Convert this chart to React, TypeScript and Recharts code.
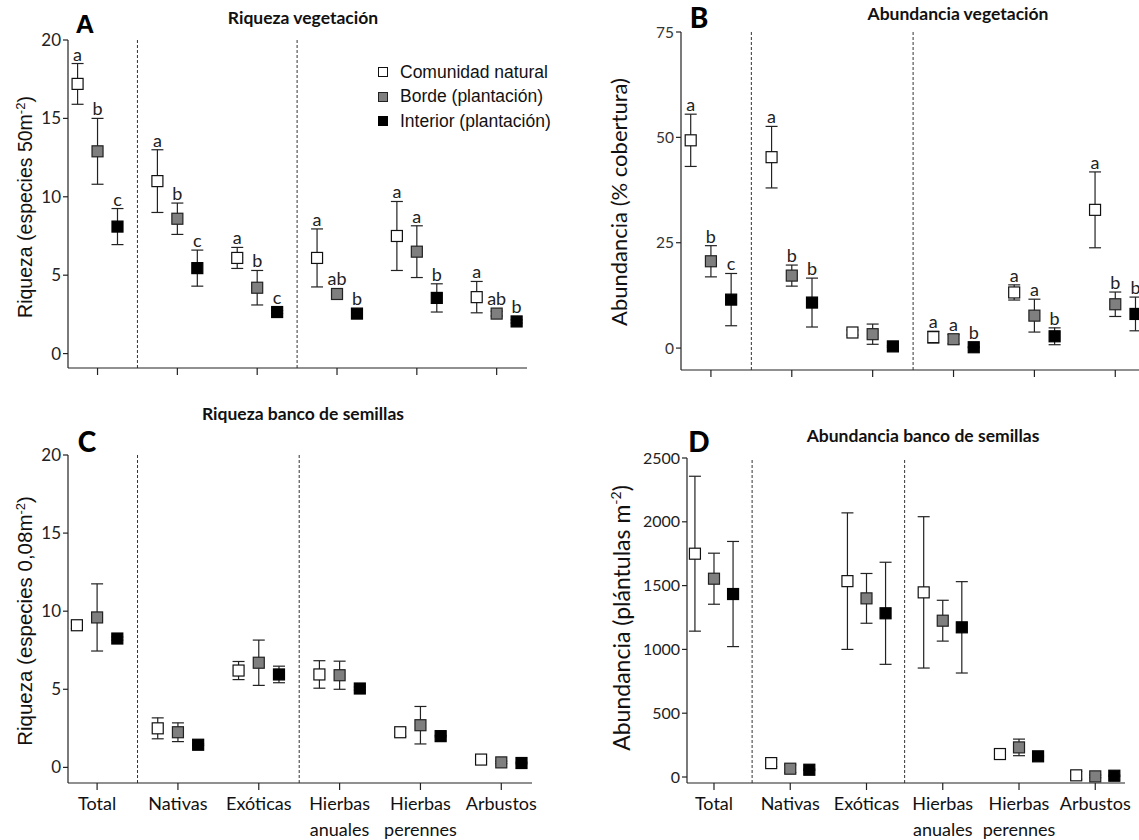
import React from "react";
import { ComposedChart, Scatter, ErrorBar, XAxis, YAxis, ReferenceLine } from "recharts";

const categories = ["Total", "Nativas", "Exóticas", "Hierbas anuales", "Hierbas perennes", "Arbustos"];
const seriesNames = ["Comunidad natural", "Borde (plantación)", "Interior (plantación)"];
const categoryTicks = [0, 1, 2, 3, 4, 5];
const groupDividers = [0.5, 2.5];

// A: riqueza vegetación
const vegRichNatural = [17.2, 11.0, 6.1, 6.1, 7.5, 3.6];
const vegRichNaturalSe = [1.3, 2.0, 0.67, 1.85, 2.2, 1.0];
const vegRichBorde = [12.9, 8.6, 4.2, 3.8, 6.5, 2.55];
const vegRichBordeSe = [2.1, 1.0, 1.1, 0.25, 1.65, 0.15];
const vegRichInterior = [8.1, 5.45, 2.65, 2.55, 3.55, 2.05];
const vegRichInteriorSe = [1.15, 1.15, 0.1, 0.1, 0.9, 0.1];
const vegRichLettersNatural = ["a", "a", "a", "a", "a", "a"];
const vegRichLettersBorde = ["b", "b", "b", "ab", "a", "ab"];
const vegRichLettersInterior = ["c", "c", "c", "b", "b", "b"];

// B: abundancia vegetación
const vegAbNatural = [49.3, 45.3, 3.7, 2.6, 13.2, 32.8];
const vegAbNaturalSe = [6.2, 7.3, 0.6, 1.4, 1.8, 9.0];
const vegAbBorde = [20.6, 17.2, 3.3, 2.1, 7.7, 10.4];
const vegAbBordeSe = [3.7, 2.5, 2.4, 1.1, 3.9, 2.9];
const vegAbInterior = [11.5, 10.8, 0.4, 0.2, 2.8, 8.1];
const vegAbInteriorSe = [6.2, 5.8, 0.2, 0.1, 2.0, 4.0];
const vegAbLettersNatural = ["a", "a", "", "a", "a", "a"];
const vegAbLettersBorde = ["b", "b", "", "a", "a", "b"];
const vegAbLettersInterior = ["c", "b", "", "b", "b", "b"];

// C: riqueza banco de semillas
const seedRichNatural = [9.1, 2.5, 6.2, 5.95, 2.25, 0.5];
const seedRichNaturalSe = [0.2, 0.67, 0.58, 0.88, 0.26, 0.1];
const seedRichBorde = [9.6, 2.25, 6.7, 5.9, 2.7, 0.32];
const seedRichBordeSe = [2.15, 0.6, 1.45, 0.9, 1.2, 0.08];
const seedRichInterior = [8.25, 1.45, 5.95, 5.05, 2.0, 0.28];
const seedRichInteriorSe = [0.1, 0.05, 0.53, 0.1, 0.05, 0.05];

// D: abundancia banco de semillas
const seedAbNatural = [1750, 109, 1535, 1447, 180, 13];
const seedAbNaturalSe = [607, 27, 535, 593, 36, 30];
const seedAbBorde = [1554, 65, 1400, 1225, 232, 5];
const seedAbBordeSe = [200, 30, 195, 160, 65, 10];
const seedAbInterior = [1434, 57, 1283, 1173, 162, 10];
const seedAbInteriorSe = [412, 5, 400, 358, 5, 5];

const offsets = [-0.25, 0, 0.25];
const fills = ["#ffffff", "#7f7f7f", "#000000"];
const strokes = ["#111111", "#222222", "#000000"];
const X_H = 40;
const Y_W = 50;
const MARK = 11;

const rows = (means: number[], se: number[], si: number, letters?: string[]) =>
  means.map((m, i) => ({ x: i + offsets[si], y: m, err: se[i], letter: letters ? letters[i] : "" }));

const CatTick = ({ x, y, payload }: any) => {
  const words = categories[payload.value].split(" ");
  return (
    <text x={x} y={y} textAnchor="middle" fontFamily="Lato" fontSize={18} fill="#111">
      {words.map((w, i) => (
        <tspan key={i} x={x} dy={i === 0 ? 18 : 26}>{w}</tspan>
      ))}
    </text>
  );
};

const makeShape = (si: number, k: number) => (p: any) => {
  const { cx, cy, payload } = p;
  const errPx = Math.max(MARK / 2, payload.err * k);
  return (
    <g>
      <rect x={cx - MARK / 2} y={cy - MARK / 2} width={MARK} height={MARK} fill={fills[si]} stroke={strokes[si]} strokeWidth={1.2} />
      {payload.letter ? (
        <text x={cx} y={cy - errPx - 3} textAnchor="middle" fontFamily="Lato" fontSize={18} fill="#222">
          {payload.letter}
        </text>
      ) : null}
    </g>
  );
};

const LegendBox = ({ left, top }: { left: number; top: number }) => (
  <div style={{ position: "absolute", left, top, fontFamily: "Liberation Sans, Arial", fontSize: 17.5, color: "#111" }}>
    {seriesNames.map((n, i) => (
      <div key={n} style={{ display: "flex", alignItems: "center", height: 24.5 }}>
        <span style={{ width: 10, height: 10, background: fills[i], border: `1px solid ${strokes[i]}`, boxSizing: "border-box", display: "inline-block", marginRight: 12 }} />
        <span>{n}</span>
      </div>
    ))}
  </div>
);

function Panel(props: any) {
  const { left, top, width, height, margin, xDomain, yDomain, yTicks, series, xLabels, tickFont, tickColor } = props;
  const plotH = height - margin.top - margin.bottom - X_H;
  const k = plotH / (yDomain[1] - yDomain[0]);
  return (
    <div style={{ position: "absolute", left, top }}>
      <ComposedChart width={width} height={height} margin={margin}>
        <XAxis
          type="number"
          dataKey="x"
          domain={xDomain}
          ticks={categoryTicks}
          interval={0}
          allowDataOverflow
          height={X_H}
          tickSize={7}
          axisLine={{ stroke: "#222", strokeWidth: 1.2 }}
          tickLine={{ stroke: "#222", strokeWidth: 1.2 }}
          tick={xLabels ? <CatTick /> : true}
          tickFormatter={xLabels ? undefined : () => ""}
        />
        <YAxis
          type="number"
          domain={yDomain}
          ticks={yTicks}
          interval={0}
          allowDataOverflow
          width={Y_W}
          tickSize={5}
          axisLine={{ stroke: "#222", strokeWidth: 1.2 }}
          tickLine={{ stroke: "#222", strokeWidth: 1.2 }}
          tick={{ fontFamily: "Lato", fontSize: tickFont, fill: tickColor }}
        />
        {groupDividers.map((d) => (
          <ReferenceLine key={d} x={d} stroke="#333" strokeWidth={1} strokeDasharray="3 2" />
        ))}
        {series.map((data: any[], si: number) => (
          <Scatter key={si} name={seriesNames[si]} data={data} dataKey="y" isAnimationActive={false} shape={makeShape(si, k)}>
            <ErrorBar dataKey="err" direction="y" width={6} stroke="#222" strokeWidth={1.2} />
          </Scatter>
        ))}
      </ComposedChart>
    </div>
  );
}

const abs = (x: number, y: number, extra: any = {}) => ({
  position: "absolute" as const,
  left: x,
  top: y,
  transform: "translate(-50%, -50%)",
  whiteSpace: "nowrap" as const,
  ...extra,
});

const yTitle = (x: number, y: number, font: string, size: number) =>
  abs(x, y, { transform: "translate(-50%, -50%) rotate(-90deg)", fontFamily: font, fontSize: size, color: "#111" });

export default function App() {
  const title = { fontFamily: "Lato", fontWeight: 700, fontSize: 17.5, color: "#111" };
  const letter = { fontFamily: "Lato", fontWeight: 900, fontSize: 28, color: "#000" };
  return (
    <div style={{ position: "absolute", left: 0, top: 0, width: 1139, height: 840, overflow: "hidden", background: "#fff" }}>
      <Panel
        left={0}
        top={0}
        width={560}
        height={420}
        margin={{ left: 18, right: 33, top: 40, bottom: 12 }}
        xDomain={[-0.37, 5.38]}
        yDomain={[-0.92, 20]}
        yTicks={[0, 5, 10, 15, 20]}
        tickFont={17}
        tickColor="#222"
        series={[
          rows(vegRichNatural, vegRichNaturalSe, 0, vegRichLettersNatural),
          rows(vegRichBorde, vegRichBordeSe, 1, vegRichLettersBorde),
          rows(vegRichInterior, vegRichInteriorSe, 2, vegRichLettersInterior),
        ]}
      />
      <LegendBox left={378} top={60} />
      <Panel
        left={560}
        top={0}
        width={600}
        height={420}
        margin={{ left: 71, right: 14, top: 32, bottom: 10 }}
        xDomain={[-0.37, 5.38]}
        yDomain={[-5.2, 75]}
        yTicks={[0, 25, 50, 75]}
        tickFont={15.5}
        tickColor="#333"
        series={[
          rows(vegAbNatural, vegAbNaturalSe, 0, vegAbLettersNatural),
          rows(vegAbBorde, vegAbBordeSe, 1, vegAbLettersBorde),
          rows(vegAbInterior, vegAbInteriorSe, 2, vegAbLettersInterior),
        ]}
      />
      <Panel
        left={0}
        top={420}
        width={560}
        height={420}
        margin={{ left: 18, right: 28, top: 35, bottom: 17 }}
        xDomain={[-0.36, 5.38]}
        yDomain={[-1, 20]}
        yTicks={[0, 5, 10, 15, 20]}
        tickFont={17}
        tickColor="#222"
        xLabels
        series={[
          rows(seedRichNatural, seedRichNaturalSe, 0),
          rows(seedRichBorde, seedRichBordeSe, 1),
          rows(seedRichInterior, seedRichInteriorSe, 2),
        ]}
      />
      <Panel
        left={560}
        top={420}
        width={579}
        height={420}
        margin={{ left: 77, right: 14, top: 38, bottom: 17 }}
        xDomain={[-0.354, 5.39]}
        yDomain={[-47, 2500]}
        yTicks={[0, 500, 1000, 1500, 2000, 2500]}
        tickFont={16}
        tickColor="#222"
        xLabels
        series={[
          rows(seedAbNatural, seedAbNaturalSe, 0),
          rows(seedAbBorde, seedAbBordeSe, 1),
          rows(seedAbInterior, seedAbInteriorSe, 2),
        ]}
      />

      <div style={abs(303, 17, title)}>Riqueza vegetación</div>
      <div style={abs(958, 13, title)}>Abundancia vegetación</div>
      <div style={abs(303, 413, title)}>Riqueza banco de semillas</div>
      <div style={abs(923, 435, title)}>Abundancia banco de semillas</div>

      <div style={abs(85, 24, { ...letter, fontFamily: "Liberation Sans, Arial", fontSize: 26 })}>A</div>
      <div style={abs(699, 17, letter)}>B</div>
      <div style={abs(87, 441, letter)}>C</div>
      <div style={abs(699, 441, letter)}>D</div>

      <div style={yTitle(25, 207, "Liberation Sans, Arial", 19.5)}>
        Riqueza (especies 50m<sup style={{ fontSize: 13 }}>-2</sup>)
      </div>
      <div style={yTitle(618, 202, "Lato", 22)}>Abundancia (% cobertura)</div>
      <div style={yTitle(25, 621, "Liberation Sans, Arial", 20.5)}>
        Riqueza (especies 0,08m<sup style={{ fontSize: 13 }}>-2</sup>)
      </div>
      <div style={yTitle(621, 618, "Lato", 23)}>
        Abundancia (plántulas m<sup style={{ fontSize: 14 }}>-2</sup>)
      </div>
    </div>
  );
}
